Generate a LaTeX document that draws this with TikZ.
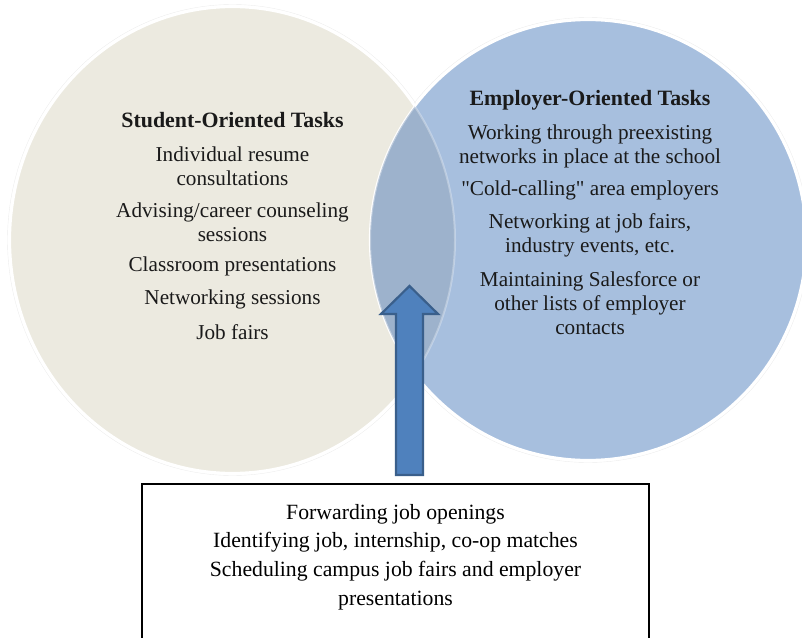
\documentclass[tikz,border=0pt]{standalone}
\usepackage{fontspec}
\setmainfont{Liberation Serif}
\definecolor{studentfill}{HTML}{ECEAE0}
\definecolor{employerfill}{HTML}{A7BFDE}
\definecolor{overlapfill}{HTML}{9DB2CC}
\definecolor{arrowfill}{HTML}{4F81BD}
\definecolor{arrowline}{HTML}{3A5F8B}
\definecolor{inktext}{HTML}{1A1A1A}
\tikzset{
  rim/.style={draw=white, line width=1.65pt},
  halo/.style={draw=black!7, line width=0.3pt},
  circletext/.style={align=center, text=inktext, inner sep=0pt,
    font=\fontsize{15.9}{18}\selectfont},
  headtext/.style={circletext, font=\fontsize{16.4}{18}\selectfont\bfseries},
  boxtext/.style={align=center, text=black, inner sep=0pt,
    font=\fontsize{16.3}{21.4}\selectfont},
  blockarrow/.style={fill=arrowfill, draw=arrowline, line width=1.65pt, line join=miter},
}
\begin{document}
\begin{tikzpicture}[x=0.75pt,y=-0.75pt]
\useasboundingbox (0,0) rectangle (802,638);
\clip (0,0) rectangle (802,638);

% the two overlapping task circles
\def\studentshape{(232.5,240) ellipse [x radius=222.5, y radius=233]}
\def\employershape{(588,240) ellipse [x radius=218, y radius=220]}
\draw[halo] (232.5,240) ellipse [x radius=225, y radius=235.5];
\draw[halo] (588,240) ellipse [x radius=220.5, y radius=222.5];
\fill[studentfill] \studentshape;
\draw[rim] \studentshape;
\fill[employerfill] \employershape;
\draw[rim] \employershape;
\begin{scope}
  \clip \studentshape;
  \fill[overlapfill] \employershape;
  \draw[white, opacity=0.35, line width=1.5pt] \employershape;
\end{scope}
\begin{scope}
  \clip \employershape;
  \draw[white, opacity=0.3, line width=1.5pt] \studentshape;
\end{scope}

% student side
\node[headtext] (shead) at (232.5,120) {Student-Oriented Tasks};
\node[circletext] (s1) at (232.5,166) {Individual resume\\consultations};
\node[circletext] (s2) at (232.5,222.5) {Advising/career counseling\\sessions};
\node[circletext] (s3) at (232.5,266) {Classroom presentations};
\node[circletext] (s4) at (232.5,299) {Networking sessions};
\node[circletext] (s5) at (232.5,332) {Job fairs};

% employer side
\node[headtext] (ehead) at (590,100) {Employer-Oriented Tasks};
\node[circletext] (e1) at (590,146) {Working through preexisting\\networks in place at the school};
\node[circletext] (e2) at (590,190) {\textquotedbl Cold-calling\textquotedbl\ area employers};
\node[circletext] (e3) at (590,235) {Networking at job fairs,\\industry events, etc.};
\node[circletext] (e4) at (590,303.5) {Maintaining Salesforce or\\other lists of employer\\contacts};

% shared tasks box
\draw[line width=1.5pt] (142,484) rectangle (649,660);
\node[boxtext] (shared) at (395.5,557) {Forwarding job openings\\Identifying job, internship, co-op matches\\Scheduling campus job fairs and employer\\presentations};

% block arrow from the box up into the overlap
\coordinate (tip) at (409.5,286);
\coordinate (foot) at (409.5,475);
\draw[blockarrow] (tip) -- (438,314) -- (423,314) -- (423,475) -- (396,475) -- (396,314) -- (381,314) -- cycle;
\end{tikzpicture}
\end{document}
